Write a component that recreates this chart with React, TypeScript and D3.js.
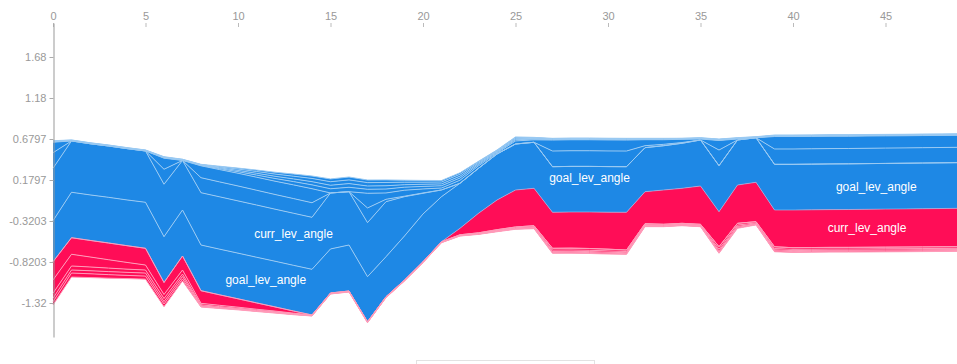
import React, { useEffect, useRef } from "react";
import * as d3 from "d3";

// Stacked additive explanation: each sample's model output with feature effects
// stacked on either side (positive below the output in red, negative above in blue).

const baseValue = 0.1797;

const outputValue = [
  -0.8166, -0.524, -0.5569, -0.5886, -0.6215, -0.6532, -1.0703, -0.7471, -1.1703, -1.2203,
  -1.2691, -1.3191, -1.3679, -1.4179, -1.4666, -1.1983, -1.174, -1.5483, -1.2435, -1.0398,
  -0.8166, -0.5727, -0.4093, -0.2264, -0.0642, 0.0577, 0.0785, -0.2142, -0.2105, -0.2105,
  -0.213, -0.2142, 0.037, 0.0577, 0.0785, 0.1065, -0.2069, 0.1187, 0.1517, -0.1862,
  -0.1862, -0.1837, -0.1813, -0.1801, -0.1776, -0.1752, -0.1728, -0.1703, -0.1679, -0.1655,
];

const goalLevAngle = [
  -0.5, -0.554, -0.555, -0.557, -0.558, -0.561, -0.559, -0.561, -0.557, -0.557,
  -0.557, -0.557, -0.557, -0.557, -0.557, -0.537, -0.561, -0.549, -0.488, -0.537,
  -0.582, -0.549, -0.549, -0.549, -0.561, -0.561, -0.561, -0.556, -0.556, -0.556,
  -0.556, -0.556, -0.537, -0.54, -0.549, -0.561, -0.561, -0.549, -0.543, -0.557,
  -0.557, -0.557, -0.557, -0.557, -0.557, -0.557, -0.557, -0.557, -0.557, -0.557,
];

const currLevAngle = [
  -0.639, -0.626, -0.624, -0.626, -0.626, -0.626, -0.639, -0.604, -0.638, -0.638,
  -0.637, -0.637, -0.635, -0.635, -0.634, -0.683, -0.65, -0.659, -0.671, -0.479,
  -0.252, -0.082, 0.079, 0.238, 0.362, 0.451, 0.456, 0.439, 0.441, 0.445,
  0.451, 0.46, 0.39, 0.418, 0.427, 0.467, 0.427, 0.467, 0.48, 0.448,
  0.46, 0.46, 0.461, 0.462, 0.463, 0.464, 0.465, 0.466, 0.467, 0.468,
];

const negEffectA = [
  -0.19, 0, 0, 0, 0, 0, -0.183, 0, -0.183, -0.182,
  -0.182, -0.18, -0.179, -0.179, -0.178, 0, 0, -0.179, -0.029, -0.006,
  -0.004, 0, 0, 0, 0, 0, 0, -0.191, -0.191, -0.191,
  -0.191, -0.191, -0.024, -0.017, -0.009, 0, -0.191, 0, 0, -0.187,
  -0.187, -0.187, -0.187, -0.187, -0.187, -0.187, -0.187, -0.187, -0.187, -0.187,
];

const negEffectB = [
  -0.128, 0, 0, 0, 0, 0, -0.135, 0, -0.145, -0.15,
  -0.155, -0.159, -0.162, -0.167, -0.171, 0, 0, -0.179, -0.077, -0.073,
  -0.049, -0.024, -0.037, -0.03, -0.012, -0.037, -0.03, -0.134, -0.134, -0.134,
  -0.134, -0.134, -0.073, -0.056, -0.04, -0.012, -0.116, -0.012, 0, -0.152,
  -0.152, -0.151, -0.151, -0.15, -0.15, -0.149, -0.148, -0.148, -0.147, -0.146,
];

const negEffectC = [
  -0.005, -0.004, -0.004, -0.004, -0.004, -0.004, -0.005, -0.005, -0.005, -0.012,
  -0.019, -0.026, -0.033, -0.04, -0.047, -0.051, -0.054, -0.049, -0.048, -0.037,
  -0.031, -0.027, -0.027, -0.017, -0.011, -0.015, -0.009, -0.006, -0.006, -0.006,
  -0.006, -0.006, -0.005, -0.005, -0.004, -0.005, -0.005, -0.005, -0.004, -0.005,
  -0.005, -0.005, -0.005, -0.005, -0.005, -0.005, -0.005, -0.005, -0.005, -0.005,
];

const negEffectD = [
  -0.005, -0.003, -0.003, -0.003, -0.003, -0.003, -0.005, -0.004, -0.005, -0.01,
  -0.016, -0.022, -0.027, -0.033, -0.039, -0.043, -0.045, -0.04, -0.04, -0.03,
  -0.026, -0.023, -0.023, -0.014, -0.009, -0.012, -0.008, -0.005, -0.005, -0.005,
  -0.005, -0.005, -0.004, -0.004, -0.003, -0.004, -0.004, -0.004, -0.003, -0.005,
  -0.005, -0.005, -0.005, -0.005, -0.005, -0.005, -0.005, -0.005, -0.005, -0.005,
];

const negEffectE = [
  -0.004, -0.003, -0.003, -0.003, -0.003, -0.003, -0.004, -0.004, -0.004, -0.01,
  -0.016, -0.022, -0.027, -0.033, -0.039, -0.043, -0.045, -0.041, -0.04, -0.031,
  -0.026, -0.023, -0.023, -0.014, -0.009, -0.012, -0.008, -0.005, -0.005, -0.005,
  -0.005, -0.005, -0.004, -0.004, -0.003, -0.004, -0.005, -0.004, -0.003, -0.004,
  -0.004, -0.004, -0.004, -0.004, -0.004, -0.004, -0.004, -0.004, -0.004, -0.004,
];

const negEffectF = [
  -0.004, -0.002, -0.002, -0.002, -0.002, -0.002, -0.004, -0.002, -0.004, -0.009,
  -0.012, -0.017, -0.022, -0.026, -0.03, -0.034, -0.035, -0.032, -0.031, -0.024,
  -0.021, -0.018, -0.018, -0.01, -0.008, -0.01, -0.005, -0.005, -0.005, -0.005,
  -0.005, -0.005, -0.004, -0.004, -0.002, -0.003, -0.004, -0.003, -0.003, -0.004,
  -0.004, -0.004, -0.004, -0.004, -0.004, -0.004, -0.004, -0.004, -0.004, -0.004,
];

const posEffectA = [
  0.223, 0.202, 0.202, 0.204, 0.204, 0.204, 0.146, 0.171, 0.154, 0.128,
  0.102, 0.077, 0.051, 0.026, 0, 0, 0, 0, 0, 0,
  0, 0, 0, 0, 0, 0, 0, 0, 0, 0,
  0, 0, 0, 0, 0, 0, 0, 0, 0, 0,
  0, 0, 0, 0, 0, 0, 0, 0, 0, 0,
];

const posEffectB = [
  0.162, 0.143, 0.122, 0.102, 0.082, 0.061, 0.049, 0.049, 0.018, 0.016,
  0.013, 0.011, 0.009, 0.006, 0.004, 0.004, 0.004, 0.004, 0.004, 0.004,
  0.004, 0.004, 0.005, 0.006, 0.009, 0.01, 0.012, 0.022, 0.022, 0.022,
  0.021, 0.018, 0.012, 0.01, 0.01, 0.01, 0.029, 0.022, 0.015, 0.022,
  0.02, 0.02, 0.02, 0.02, 0.02, 0.02, 0.02, 0.02, 0.02, 0.02,
];

const posEffectC = [
  0.061, 0.049, 0.046, 0.043, 0.039, 0.037, 0.037, 0.03, 0.012, 0.01,
  0.009, 0.007, 0.006, 0.005, 0.004, 0.004, 0.004, 0.004, 0.004, 0.004,
  0.004, 0.004, 0.004, 0.005, 0.006, 0.007, 0.01, 0.016, 0.016, 0.016,
  0.016, 0.015, 0.01, 0.007, 0.007, 0.007, 0.022, 0.016, 0.011, 0.016,
  0.015, 0.015, 0.015, 0.015, 0.015, 0.015, 0.015, 0.015, 0.015, 0.015,
];

const posEffectD = [
  0.043, 0.037, 0.037, 0.037, 0.037, 0.037, 0.03, 0.03, 0.009, 0.007,
  0.006, 0.005, 0.005, 0.004, 0.002, 0.002, 0.002, 0.002, 0.002, 0.002,
  0.002, 0.002, 0.004, 0.004, 0.005, 0.006, 0.007, 0.012, 0.012, 0.012,
  0.012, 0.011, 0.007, 0.006, 0.006, 0.006, 0.016, 0.012, 0.007, 0.012,
  0.012, 0.012, 0.012, 0.012, 0.012, 0.012, 0.012, 0.012, 0.012, 0.012,
];

const posEffectE = [
  0.039, 0.049, 0.046, 0.043, 0.039, 0.037, 0.033, 0.024, 0.006, 0.006,
  0.005, 0.005, 0.004, 0.004, 0.002, 0.002, 0.002, 0.002, 0.002, 0.002,
  0.002, 0.002, 0.002, 0.004, 0.005, 0.005, 0.007, 0.011, 0.011, 0.011,
  0.01, 0.009, 0.007, 0.006, 0.006, 0.006, 0.013, 0.011, 0.007, 0.011,
  0.01, 0.01, 0.01, 0.01, 0.01, 0.01, 0.01, 0.01, 0.01, 0.01,
];

// Stacking order outward from the output value
const featureOrder = [
  { name: "goal_lev_angle", values: goalLevAngle },
  { name: "curr_lev_angle", values: currLevAngle },
  { name: "neg_a", values: negEffectA },
  { name: "neg_b", values: negEffectB },
  { name: "neg_c", values: negEffectC },
  { name: "neg_d", values: negEffectD },
  { name: "neg_e", values: negEffectE },
  { name: "neg_f", values: negEffectF },
  { name: "pos_a", values: posEffectA },
  { name: "pos_b", values: posEffectB },
  { name: "pos_c", values: posEffectC },
  { name: "pos_d", values: posEffectD },
  { name: "pos_e", values: posEffectE },
];

// Feature name labels, anchored at (sample index, output-space value)
const labelText = ["curr_lev_angle", "goal_lev_angle", "goal_lev_angle", "goal_lev_angle", "curr_lev_angle"];
const labelSample = [13, 11.5, 29, 44.5, 44];
const labelValue = [-0.4703, -1.0398, 0.2077, 0.098, -0.4093];

const yTickValues = [-1.3203, -0.8203, -0.3203, 0.1797, 0.6797, 1.1797, 1.6797];

const W = 957;
const H = 364;
const RED = "rgb(255, 13, 87)";
const BLUE = "rgb(30, 136, 229)";
const FONT = "Arial, 'Liberation Sans', sans-serif";

type Band = [number, number];

export default function App() {
  const xAxisRef = useRef<SVGGElement>(null);
  const yAxisRef = useRef<SVGGElement>(null);

  const n = outputValue.length;
  const x = d3.scaleLinear().domain([0, n - 1]).range([53, 959.5]);
  const y = d3
    .scaleLinear()
    .domain([baseValue - 1.9146, baseValue + 1.9146])
    .range([337, 23]);

  // Build stacked bands for each feature
  const negBands: Band[][] = featureOrder.map(() => []);
  const posBands: Band[][] = featureOrder.map(() => []);
  for (let i = 0; i < n; i++) {
    let up = outputValue[i];
    let down = outputValue[i];
    featureOrder.forEach((f, k) => {
      const v = f.values[i];
      if (v < 0) {
        negBands[k].push([up, up - v]);
        up -= v;
        posBands[k].push([down, down]);
      } else {
        posBands[k].push([down, down - v]);
        down -= v;
        negBands[k].push([up, up]);
      }
    });
  }
  const hasNeg = featureOrder.map((f) => f.values.some((v) => v < 0));
  const hasPos = featureOrder.map((f) => f.values.some((v) => v > 0));

  const area = d3
    .area<Band>()
    .x((_, i) => x(i))
    .y0((d) => y(d[0]))
    .y1((d) => y(d[1]));
  const edge = d3
    .line<Band>()
    .x((_, i) => x(i))
    .y((d) => y(d[1]));
  const outLine = d3
    .line<number>()
    .x((_, i) => x(i))
    .y((d) => y(d));

  const blueLight = d3.hsl(BLUE).brighter(1.2).toString();
  const redLight = d3.hsl(RED).brighter(1.2).toString();

  useEffect(() => {
    const fmt = d3.format(".4~r");
    const xAxis = d3.axisTop(x).tickSizeInner(4).tickSizeOuter(0).tickPadding(3);
    const gx = d3.select(xAxisRef.current!);
    gx.call(xAxis as any);
    gx.select(".domain").attr("stroke-opacity", 0);
    gx.selectAll(".tick line").attr("stroke", "#bbb");
    gx.selectAll(".tick text").attr("fill", "#999").attr("font-size", 11).attr("font-family", FONT);

    const yAxis = d3
      .axisLeft(y)
      .tickValues(yTickValues)
      .tickSizeInner(4)
      .tickSizeOuter(0)
      .tickPadding(3)
      .tickFormat((d) => fmt(d as number).replace("\u2212", "-"));
    const gy = d3.select(yAxisRef.current!);
    gy.call(yAxis as any);
    gy.select(".domain").attr("stroke", "#999");
    gy.selectAll(".tick line").attr("stroke", "#aaa");
    gy.selectAll(".tick text").attr("fill", "#999").attr("font-size", 11).attr("font-family", FONT);
  }, []);

  return (
    <div style={{ position: "absolute", left: 0, top: 0, width: W, height: H, background: "#fff" }}>
      <svg width={W} height={H} style={{ display: "block" }}>
        <g>
          {featureOrder.map((f, k) =>
            hasNeg[k] ? <path key={"na" + k} d={area(negBands[k]) || ""} fill={BLUE} /> : null
          )}
          {featureOrder.map((f, k) =>
            hasPos[k] ? <path key={"pa" + k} d={area(posBands[k]) || ""} fill={RED} /> : null
          )}
          <path d={outLine(outputValue) || ""} fill="none" stroke={blueLight} strokeWidth={1} strokeOpacity={0.6} />
          {featureOrder.map((f, k) =>
            hasNeg[k] ? (
              <path key={"nl" + k} d={edge(negBands[k]) || ""} fill="none" stroke={blueLight} strokeWidth={1} />
            ) : null
          )}
          {featureOrder.map((f, k) =>
            hasPos[k] ? (
              <path key={"pl" + k} d={edge(posBands[k]) || ""} fill="none" stroke={redLight} strokeWidth={1} />
            ) : null
          )}
        </g>
        <g>
          {labelText.map((t, i) => (
            <text
              key={"lbl" + i}
              x={x(labelSample[i])}
              y={y(labelValue[i])}
              dy="0.35em"
              textAnchor="middle"
              fill="#fff"
              fontSize={12}
              fontFamily={FONT}
            >
              {t}
            </text>
          ))}
        </g>
        <g ref={xAxisRef} transform="translate(0,27)" />
        <g ref={yAxisRef} transform="translate(53.5,0)" />
        <rect x={416.5} y={360.5} width={178} height={24} fill="#fff" stroke="#e2e2e2" strokeWidth={1} />
      </svg>
    </div>
  );
}
